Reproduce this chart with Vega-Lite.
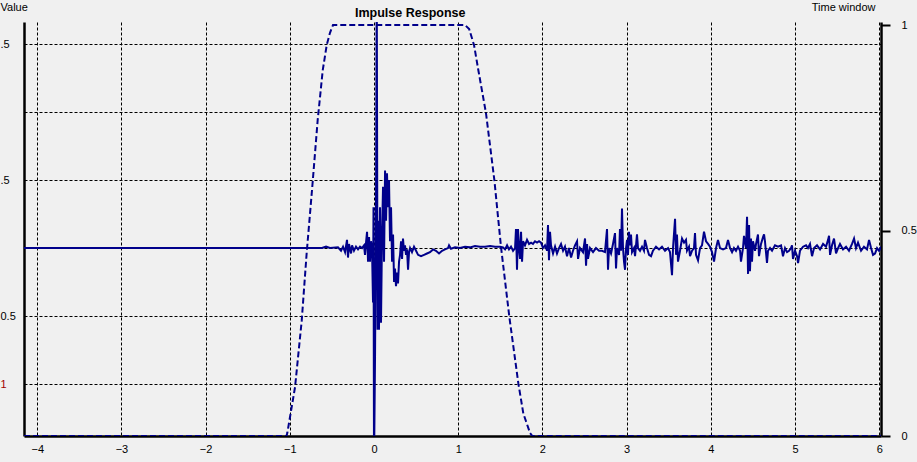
{
  "$schema": "https://vega.github.io/schema/vega-lite/v6.json",
  "width": 857,
  "height": 414,
  "autosize": {"type": "none"},
  "padding": {"left": 24, "top": 22, "right": 36, "bottom": 26},
  "background": "#f0f0f0",
  "config": {"view": {"stroke": null}, "font": "Liberation Sans"},
  "title": {"text": "Impulse Response", "anchor": "start", "frame": "group", "dx": 331, "offset": -18, "fontSize": 12.5, "fontWeight": "bold", "color": "black", "font": "Liberation Sans"},
  "datasets": {
    "sig": [
      {"t": -4.157, "v": 0}, {"t": -0.618, "v": 0}, {"t": -0.57, "v": 0.01}, {"t": -0.523, "v": 0}, {"t": -0.428, "v": 0.005},
      {"t": -0.392, "v": -0.02}, {"t": -0.368, "v": 0.01}, {"t": -0.344, "v": -0.03}, {"t": -0.321, "v": 0.06}, {"t": -0.309, "v": -0.07},
      {"t": -0.297, "v": 0.03}, {"t": -0.273, "v": -0.04}, {"t": -0.261, "v": 0.02}, {"t": -0.238, "v": -0.02}, {"t": -0.214, "v": 0.01},
      {"t": -0.19, "v": -0.01}, {"t": -0.166, "v": 0.01}, {"t": -0.143, "v": 0}, {"t": -0.119, "v": 0.02}, {"t": -0.107, "v": -0.05},
      {"t": -0.095, "v": 0.04}, {"t": -0.083, "v": 0.12}, {"t": -0.071, "v": -0.1}, {"t": -0.059, "v": 0.08}, {"t": -0.048, "v": -0.1},
      {"t": -0.036, "v": 0.05}, {"t": -0.024, "v": 0}, {"t": -0.012, "v": -0.4}, {"t": -0.006, "v": 0.3}, {"t": 0, "v": -1.6},
      {"t": 0.012, "v": -0.8}, {"t": 0.024, "v": 0.4}, {"t": 0.032, "v": 2.0}, {"t": 0.042, "v": -0.6}, {"t": 0.048, "v": 0.2},
      {"t": 0.059, "v": -0.6}, {"t": 0.071, "v": 0.3}, {"t": 0.083, "v": -0.55}, {"t": 0.095, "v": 0.1}, {"t": 0.107, "v": 0.45},
      {"t": 0.119, "v": -0.1}, {"t": 0.131, "v": 0.57}, {"t": 0.143, "v": 0.2}, {"t": 0.154, "v": 0.55}, {"t": 0.166, "v": 0.3},
      {"t": 0.178, "v": 0.5}, {"t": 0.19, "v": 0.05}, {"t": 0.202, "v": 0.3}, {"t": 0.214, "v": -0.1}, {"t": 0.226, "v": 0.1},
      {"t": 0.238, "v": -0.25}, {"t": 0.249, "v": -0.15}, {"t": 0.261, "v": -0.28}, {"t": 0.273, "v": -0.18}, {"t": 0.285, "v": -0.26},
      {"t": 0.297, "v": -0.1}, {"t": 0.309, "v": -0.05}, {"t": 0.321, "v": 0.05}, {"t": 0.333, "v": -0.08}, {"t": 0.344, "v": 0.07},
      {"t": 0.356, "v": -0.02}, {"t": 0.368, "v": 0.02}, {"t": 0.38, "v": -0.05}, {"t": 0.392, "v": -0.01}, {"t": 0.404, "v": -0.16},
      {"t": 0.416, "v": -0.03}, {"t": 0.428, "v": 0}, {"t": 0.451, "v": -0.03}, {"t": 0.475, "v": 0.01}, {"t": 0.499, "v": -0.02},
      {"t": 0.523, "v": -0.05}, {"t": 0.558, "v": -0.06}, {"t": 0.594, "v": -0.05}, {"t": 0.629, "v": -0.04}, {"t": 0.665, "v": -0.03},
      {"t": 0.701, "v": -0.01}, {"t": 0.736, "v": -0.02}, {"t": 0.772, "v": -0.04}, {"t": 0.808, "v": -0.02}, {"t": 0.843, "v": -0.01},
      {"t": 0.879, "v": 0}, {"t": 0.891, "v": 0.02}, {"t": 0.914, "v": -0.005}, {"t": 0.962, "v": 0.005}, {"t": 1.021, "v": 0},
      {"t": 1.081, "v": 0.01}, {"t": 1.14, "v": 0.005}, {"t": 1.199, "v": 0.015}, {"t": 1.259, "v": 0.01}, {"t": 1.318, "v": 0.01},
      {"t": 1.378, "v": 0.015}, {"t": 1.437, "v": 0.01}, {"t": 1.496, "v": 0.01}, {"t": 1.532, "v": 0.005}, {"t": 1.556, "v": -0.01},
      {"t": 1.58, "v": 0.02}, {"t": 1.603, "v": -0.01}, {"t": 1.627, "v": 0.01}, {"t": 1.651, "v": -0.02}, {"t": 1.675, "v": 0},
      {"t": 1.686, "v": 0.14}, {"t": 1.698, "v": -0.16}, {"t": 1.71, "v": 0.14}, {"t": 1.722, "v": 0}, {"t": 1.734, "v": -0.08},
      {"t": 1.746, "v": 0.12}, {"t": 1.758, "v": -0.1}, {"t": 1.77, "v": 0.05}, {"t": 1.793, "v": 0.02}, {"t": 1.817, "v": 0.06},
      {"t": 1.841, "v": 0.03}, {"t": 1.865, "v": 0.04}, {"t": 1.888, "v": 0.03}, {"t": 1.912, "v": 0.05}, {"t": 1.936, "v": 0.04},
      {"t": 1.96, "v": 0.05}, {"t": 1.983, "v": 0.04}, {"t": 2.007, "v": 0}, {"t": 2.031, "v": 0.02}, {"t": 2.055, "v": -0.02},
      {"t": 2.066, "v": 0.17}, {"t": 2.078, "v": -0.09}, {"t": 2.09, "v": 0.12}, {"t": 2.102, "v": 0.02}, {"t": 2.126, "v": -0.04},
      {"t": 2.15, "v": 0.01}, {"t": 2.173, "v": -0.04}, {"t": 2.197, "v": 0}, {"t": 2.221, "v": 0.03}, {"t": 2.245, "v": -0.02},
      {"t": 2.268, "v": 0.01}, {"t": 2.292, "v": -0.06}, {"t": 2.316, "v": 0}, {"t": 2.34, "v": -0.07}, {"t": 2.363, "v": -0.02},
      {"t": 2.387, "v": 0.02}, {"t": 2.411, "v": 0.05}, {"t": 2.423, "v": -0.08}, {"t": 2.446, "v": 0}, {"t": 2.482, "v": -0.03},
      {"t": 2.506, "v": 0.07}, {"t": 2.518, "v": -0.13}, {"t": 2.53, "v": 0.03}, {"t": 2.541, "v": -0.08}, {"t": 2.565, "v": 0},
      {"t": 2.601, "v": -0.03}, {"t": 2.636, "v": 0}, {"t": 2.672, "v": -0.02}, {"t": 2.708, "v": -0.02}, {"t": 2.743, "v": -0.03},
      {"t": 2.767, "v": 0.14}, {"t": 2.779, "v": -0.16}, {"t": 2.791, "v": 0}, {"t": 2.815, "v": -0.04}, {"t": 2.838, "v": 0.03},
      {"t": 2.862, "v": 0.11}, {"t": 2.874, "v": -0.15}, {"t": 2.886, "v": 0}, {"t": 2.91, "v": -0.05}, {"t": 2.921, "v": 0.14},
      {"t": 2.933, "v": -0.02}, {"t": 2.945, "v": 0.29}, {"t": 2.957, "v": 0}, {"t": 2.969, "v": -0.1}, {"t": 2.981, "v": -0.16},
      {"t": 2.993, "v": 0}, {"t": 3.005, "v": 0.06}, {"t": 3.016, "v": -0.05}, {"t": 3.028, "v": 0.12}, {"t": 3.04, "v": 0.02},
      {"t": 3.052, "v": 0.1}, {"t": 3.064, "v": -0.03}, {"t": 3.088, "v": 0}, {"t": 3.1, "v": -0.06}, {"t": 3.123, "v": 0.1},
      {"t": 3.135, "v": 0}, {"t": 3.159, "v": -0.02}, {"t": 3.183, "v": 0.01}, {"t": 3.206, "v": -0.02}, {"t": 3.218, "v": 0.06},
      {"t": 3.242, "v": 0}, {"t": 3.266, "v": -0.05}, {"t": 3.29, "v": -0.06}, {"t": 3.313, "v": -0.02}, {"t": 3.349, "v": 0.01},
      {"t": 3.385, "v": -0.01}, {"t": 3.42, "v": 0.01}, {"t": 3.456, "v": -0.02}, {"t": 3.492, "v": 0}, {"t": 3.515, "v": -0.03},
      {"t": 3.539, "v": -0.2}, {"t": 3.551, "v": 0}, {"t": 3.575, "v": 0.215}, {"t": 3.587, "v": -0.05}, {"t": 3.598, "v": 0.1},
      {"t": 3.61, "v": -0.1}, {"t": 3.634, "v": -0.02}, {"t": 3.658, "v": 0.07}, {"t": 3.682, "v": 0.04}, {"t": 3.705, "v": 0.06},
      {"t": 3.717, "v": -0.02}, {"t": 3.741, "v": 0.01}, {"t": 3.753, "v": -0.06}, {"t": 3.777, "v": -0.02}, {"t": 3.8, "v": 0},
      {"t": 3.812, "v": 0.11}, {"t": 3.824, "v": -0.05}, {"t": 3.848, "v": -0.09}, {"t": 3.872, "v": 0}, {"t": 3.895, "v": 0.02},
      {"t": 3.919, "v": 0.12}, {"t": 3.943, "v": 0.05}, {"t": 3.967, "v": 0.03}, {"t": 3.99, "v": 0.01}, {"t": 4.014, "v": -0.03},
      {"t": 4.038, "v": -0.1}, {"t": 4.062, "v": 0}, {"t": 4.085, "v": 0.06}, {"t": 4.109, "v": 0}, {"t": 4.145, "v": -0.01},
      {"t": 4.18, "v": 0}, {"t": 4.204, "v": 0.06}, {"t": 4.228, "v": 0}, {"t": 4.252, "v": -0.03}, {"t": 4.275, "v": 0},
      {"t": 4.299, "v": -0.02}, {"t": 4.323, "v": 0.01}, {"t": 4.347, "v": -0.02}, {"t": 4.358, "v": -0.1}, {"t": 4.382, "v": 0},
      {"t": 4.394, "v": 0.09}, {"t": 4.418, "v": 0}, {"t": 4.43, "v": 0.23}, {"t": 4.442, "v": -0.19}, {"t": 4.454, "v": 0.17},
      {"t": 4.465, "v": -0.17}, {"t": 4.477, "v": 0.07}, {"t": 4.489, "v": -0.1}, {"t": 4.501, "v": 0.05}, {"t": 4.525, "v": -0.02},
      {"t": 4.537, "v": 0.03}, {"t": 4.56, "v": 0.1}, {"t": 4.572, "v": -0.06}, {"t": 4.596, "v": 0.03}, {"t": 4.62, "v": 0.08},
      {"t": 4.632, "v": 0.1}, {"t": 4.643, "v": 0.05}, {"t": 4.667, "v": -0.11}, {"t": 4.679, "v": -0.02}, {"t": 4.703, "v": 0},
      {"t": 4.727, "v": -0.02}, {"t": 4.762, "v": 0.02}, {"t": 4.798, "v": 0.01}, {"t": 4.834, "v": 0.02}, {"t": 4.857, "v": -0.06},
      {"t": 4.881, "v": 0}, {"t": 4.905, "v": -0.03}, {"t": 4.929, "v": -0.02}, {"t": 4.952, "v": 0}, {"t": 4.964, "v": 0.02},
      {"t": 4.976, "v": -0.08}, {"t": 5.0, "v": -0.02}, {"t": 5.024, "v": -0.06}, {"t": 5.036, "v": -0.11}, {"t": 5.059, "v": -0.02},
      {"t": 5.095, "v": 0.01}, {"t": 5.131, "v": 0.02}, {"t": 5.154, "v": 0}, {"t": 5.178, "v": 0.03}, {"t": 5.202, "v": -0.06},
      {"t": 5.226, "v": 0}, {"t": 5.261, "v": 0.02}, {"t": 5.297, "v": -0.01}, {"t": 5.333, "v": 0.03}, {"t": 5.368, "v": 0.01},
      {"t": 5.392, "v": 0.06}, {"t": 5.404, "v": 0.09}, {"t": 5.416, "v": -0.05}, {"t": 5.439, "v": 0.02}, {"t": 5.463, "v": 0.07},
      {"t": 5.487, "v": -0.04}, {"t": 5.511, "v": 0}, {"t": 5.534, "v": 0.03}, {"t": 5.57, "v": -0.01}, {"t": 5.606, "v": 0.01},
      {"t": 5.641, "v": -0.02}, {"t": 5.677, "v": 0.03}, {"t": 5.701, "v": 0.07}, {"t": 5.724, "v": 0}, {"t": 5.748, "v": 0.04},
      {"t": 5.784, "v": -0.02}, {"t": 5.819, "v": 0.01}, {"t": 5.855, "v": -0.01}, {"t": 5.879, "v": 0.06}, {"t": 5.903, "v": 0},
      {"t": 5.926, "v": -0.05}, {"t": 5.95, "v": -0.04}, {"t": 5.974, "v": 0}, {"t": 5.998, "v": -0.02}, {"t": 6.021, "v": 0.01}
    ],
    "win": [
      {"t": -4.157, "w": 0}, {"t": -1.04, "w": 0}, {"t": -1.03, "w": 0.007}, {"t": -0.938, "w": 0.119}, {"t": -0.859, "w": 0.28},
      {"t": -0.8, "w": 0.445}, {"t": -0.733, "w": 0.607}, {"t": -0.669, "w": 0.769}, {"t": -0.609, "w": 0.89}, {"t": -0.562, "w": 0.951},
      {"t": -0.523, "w": 0.981}, {"t": -0.487, "w": 1.0}, {"t": 1.081, "w": 1.0}, {"t": 1.13, "w": 0.99}, {"t": 1.188, "w": 0.951},
      {"t": 1.239, "w": 0.89}, {"t": 1.33, "w": 0.785}, {"t": 1.429, "w": 0.623}, {"t": 1.508, "w": 0.46}, {"t": 1.607, "w": 0.29},
      {"t": 1.714, "w": 0.128}, {"t": 1.773, "w": 0.055}, {"t": 1.853, "w": 0.007}, {"t": 1.88, "w": 0}, {"t": 6.021, "w": 0}
    ]
  },
  "encoding": {
    "x": {
      "field": "t", "type": "quantitative",
      "scale": {"domain": [-4.157, 6.021], "nice": false, "zero": false},
      "axis": {
        "orient": "bottom", "title": null, "values": [-4, -3, -2, -1, 0, 1, 2, 3, 4, 5, 6],
        "grid": true, "gridColor": "black", "gridOpacity": 1, "gridWidth": 1, "gridDash": [3, 2],
        "domainColor": "black", "domainWidth": 2.5, "ticks": false,
        "labelPadding": 7, "labelFontSize": 11, "labelColor": "black", "labelFont": "Liberation Sans"
      }
    }
  },
  "layer": [
    {
      "data": {"name": "sig"},
      "mark": {"type": "line", "color": "#00008b", "strokeWidth": 2, "clip": true},
      "encoding": {
        "y": {
          "field": "v", "type": "quantitative",
          "scale": {"domain": [-1.382, 1.662], "nice": false, "zero": false},
          "axis": {
            "orient": "left", "values": [-1, -0.5, 0, 0.5, 1, 1.5],
            "grid": true, "gridColor": "black", "gridOpacity": 1, "gridWidth": 1, "gridDash": [3, 2],
            "domainColor": "black", "domainWidth": 2.5, "ticks": false,
            "labelExpr": "(datum.value == 1.5 || datum.value == 0.5) ? '.5' : datum.value == -0.5 ? '0.5' : datum.value == -1 ? '1' : ''",
            "labelAlign": "left", "labelPadding": 24, "labelFontSize": 11, "labelFont": "Liberation Sans",
            "labelColor": {"condition": {"test": "datum.value == -1", "value": "#a00000"}, "value": "black"},
            "title": "Value", "titleAngle": 0, "titleX": -24, "titleY": -21, "titleAlign": "left", "titleBaseline": "top",
            "titleFontWeight": "normal", "titleFontSize": 11, "titleColor": "black", "titleFont": "Liberation Sans"
          }
        }
      }
    },
    {
      "data": {"name": "win"},
      "mark": {"type": "line", "color": "#00008b", "strokeWidth": 2, "strokeDash": [6, 3], "clip": true},
      "encoding": {
        "y": {
          "field": "w", "type": "quantitative",
          "scale": {"domain": [0, 1.0073], "nice": false, "zero": false},
          "axis": {
            "orient": "right", "values": [0, 0.5, 1], "grid": false, "format": "~g",
            "domainColor": "black", "domainWidth": 2.5,
            "tickColor": "black", "tickSize": 9, "tickWidth": 2,
            "labelPadding": 11, "labelFontSize": 11, "labelColor": "black", "labelFont": "Liberation Sans",
            "title": "Time window", "titleAngle": 0, "titleX": -6, "titleY": -21, "titleAlign": "right", "titleBaseline": "top",
            "titleFontWeight": "normal", "titleFontSize": 11, "titleColor": "black", "titleFont": "Liberation Sans"
          }
        }
      }
    }
  ],
  "resolve": {"scale": {"y": "independent"}}
}
